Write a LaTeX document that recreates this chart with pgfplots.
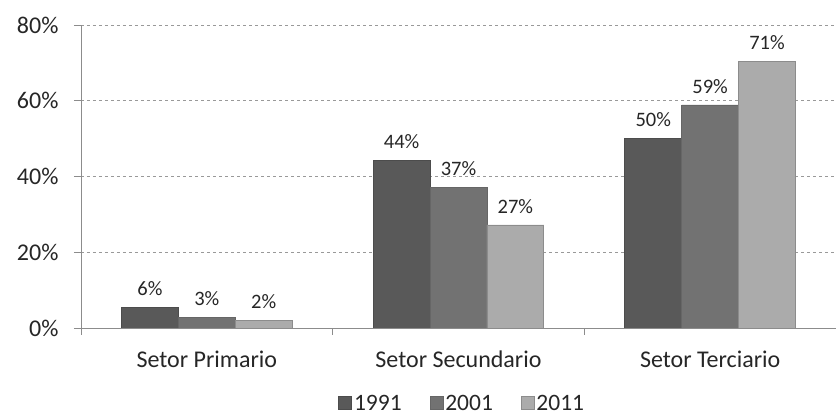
\documentclass[border=0pt]{standalone}
\usepackage{fontspec}
\setmainfont{Carlito}
\usepackage{pgfplots}
\pgfplotsset{compat=1.18}
\definecolor{cA}{HTML}{595959}
\definecolor{cB}{HTML}{727272}
\definecolor{cC}{HTML}{ABABAB}
\definecolor{txt}{HTML}{262626}
\begin{document}
\begin{tikzpicture}
\begin{axis}[
  name=ax,
  scale only axis, width=755pt, height=303pt,
  xmin=-0.5, xmax=2.5, ymin=0, ymax=80,
  ybar, bar width=0.226,
  axis x line*=bottom, axis y line*=left,
  axis line style={color=black!45, line width=0.8pt},
  xtick={0,1,2},
  xticklabels={Setor Primario, Setor Secundario, Setor Terciario},
  major x tick style={draw=none},
  minor xtick={-0.5,0.5,1.5,2.5},
  minor x tick style={color=black!45, line width=0.8pt},
  minor tick length=7pt,
  tick align=outside,
  ytick={0,20,40,60,80},
  yticklabel={\pgfmathprintnumber{\tick}\%},
  major y tick style={color=black!45, line width=0.8pt},
  major tick length=7pt,
  ymajorgrids,
  grid style={dashed, color=black!40, line width=0.7pt},
  /pgf/number format/assume math mode=true,
  ticklabel style={font=\fontsize{24}{27}\selectfont, color=txt},
  yticklabel style={xshift=-12pt},
  xticklabel style={yshift=-12pt},
  point meta=explicit symbolic,
  nodes near coords={\pgfplotspointmeta\%},
  every node near coord/.append style={font=\fontsize{20.5}{23}\selectfont, color=txt, yshift=8pt},
  legend columns=3,
  legend style={at={(0.505,-0.25)}, anchor=center, draw=none, fill=none,
    font=\fontsize{23.5}{26}\selectfont, text=txt, inner sep=0pt,
    /tikz/every even column/.append style={column sep=26pt}},
  legend image code/.code={\draw[#1, line width=0.6pt] (0pt,-6pt) rectangle (13pt,7pt);},
]
\addplot[fill=cA, draw=black!70, line width=0.8pt, bar shift=-0.226] coordinates {(0,5.5) [6] (1,44.2) [44] (2,50.0) [50]};
\addplot[fill=cB, draw=black!60, line width=0.8pt, bar shift=0] coordinates {(0,2.9) [3] (1,37.1) [37] (2,58.9) [59]};
\addplot[fill=cC, draw=black!45, line width=0.8pt, bar shift=0.226] coordinates {(0,2.1) [2] (1,27.2) [27] (2,70.3) [71]};
\legend{1991,2001,2011}
\end{axis}
\pgfresetboundingbox
\path[use as bounding box] ([xshift=-81pt,yshift=-90pt]ax.south west) rectangle ([yshift=25pt]ax.north east);
\end{tikzpicture}
\end{document}
